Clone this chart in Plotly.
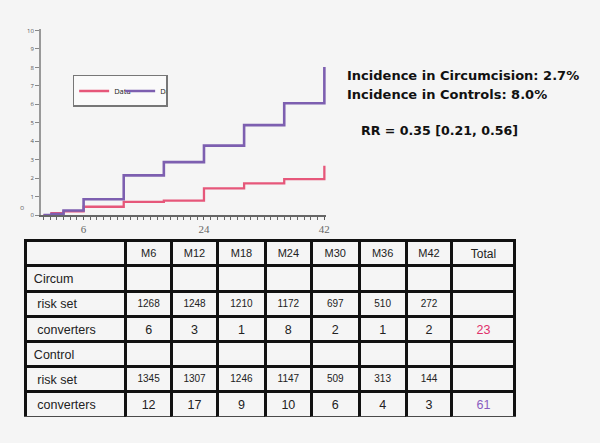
import plotly.graph_objects as go

# ---- Step-curve data (cumulative incidence, %) ----
months = [0, 1.2, 3, 6, 12, 18, 24, 30, 36, 42]
circum_cum = [0, 0.1, 0.2, 0.45, 0.72, 0.78, 1.45, 1.72, 1.95, 2.67]
control_cum = [0, 0.05, 0.25, 0.86, 2.15, 2.87, 3.76, 4.87, 6.06, 8.02]

x_ticks = [6, 24, 42]
y_ticks = list(range(0, 11))

# ---- Table data ----
col_labels = ["", "M6", "M12", "M18", "M24", "M30", "M36", "M42", "Total"]
row_labels = ["Circum", "\u00a0risk set", "\u00a0converters", "Control", "\u00a0risk set", "\u00a0converters"]
circum_risk = [1268, 1248, 1210, 1172, 697, 510, 272]
circum_conv = [6, 3, 1, 8, 2, 1, 2]
control_risk = [1345, 1307, 1246, 1147, 509, 313, 144]
control_conv = [12, 17, 9, 10, 6, 4, 3]
total_circum = 23
total_control = 61

annot_lines = ["Incidence in Circumcision: 2.7%", "Incidence in Controls: 8.0%"]
rr_text = "RR = 0.35 [0.21, 0.56]"

BG = "#f5f5f5"
PURPLE = "#7d5fb0"
RED = "#e6577a"
TXT = "#222"

# table columns + per-cell fonts (2-D, column-major)
cols = [row_labels]
sizes = [[12.5] * 6]
colors = [[TXT] * 6]
for i in range(7):
    cols.append(["", circum_risk[i], circum_conv[i], "", control_risk[i], control_conv[i]])
    sizes.append([10, 10, 12.5, 10, 10, 12.5])
    colors.append([TXT] * 6)
cols.append(["", "", total_circum, "", "", total_control])
sizes.append([12.5] * 6)
colors.append([TXT, TXT, "#e0306a", TXT, TXT, "#8a5cc0"])

table = dict(
    type="table",
    domain=dict(x=[26 / 600, 518 / 600], y=[(443 - 421) / 443, (443 - 242) / 443]),
    columnwidth=[100, 46, 46, 48, 46, 48, 47, 46, 63],
    header=dict(values=col_labels, height=25.2,
                align="center", fill=dict(color=BG),
                line=dict(color="#111", width=3),
                font=dict(family="Liberation Sans, Arial", size=[11] * 8 + [12], color=TXT)),
    cells=dict(values=cols, height=25.2,
               align=["left"] + ["center"] * 8, fill=dict(color=BG),
               line=dict(color="#111", width=3),
               font=dict(family="Liberation Sans, Arial", size=sizes, color=colors)),
)

circ = go.Scatter(x=months, y=circum_cum, mode="lines", line_shape="hv",
                  line=dict(color=RED, width=2.3), name="Data")
ctrl = go.Scatter(x=months, y=control_cum, mode="lines", line_shape="hv",
                  line=dict(color=PURPLE, width=2.6), name="Data")

fig = go.Figure(data=[circ, ctrl, table], _validate=False)

fig.update_layout(
    width=600, height=443,
    margin=dict(l=0, r=0, t=0, b=0),
    paper_bgcolor=BG, plot_bgcolor=BG,
    showlegend=True,
    legend=dict(x=73 / 600, y=(443 - 74) / 443, xanchor="left", yanchor="top",
                orientation="h", entrywidth=1, entrywidthmode="pixels",
                bgcolor="#fafafa", bordercolor="#777", borderwidth=1.5,
                font=dict(size=7.5, color="#222"), tracegroupgap=0),
    xaxis=dict(domain=[41 / 600, 328 / 600], range=[-0.4, 42.3],
               tickmode="array", tickvals=x_ticks, ticktext=[str(v) for v in x_ticks],
               ticks="outside", ticklen=3, tickcolor="#555",
               minor=dict(dtick=1, tick0=0, ticks="outside", ticklen=3, tickcolor="#666"),
               showline=True, linecolor="#666", linewidth=2, showgrid=False, zeroline=False,
               tickfont=dict(family="Liberation Serif, serif", size=11, color="#666")),
    yaxis=dict(domain=[(443 - 216) / 443, (443 - 27) / 443], range=[0, 10.1],
               tickmode="array", tickvals=y_ticks,
               ticks="outside", ticklen=4, tickcolor="#888",
               showline=True, linecolor="#999", linewidth=1.5, showgrid=False, zeroline=False,
               tickfont=dict(size=6, color="#555")),
)

for txt, yy in zip(annot_lines, [75, 94]):
    fig.add_annotation(xref="paper", yref="paper", x=347 / 600, y=1 - yy / 443,
                       xanchor="left", yanchor="middle", showarrow=False,
                       text="<b>" + txt + "</b>",
                       font=dict(family="DejaVu Sans", size=13, color="#111"))
fig.add_annotation(xref="paper", yref="paper", x=361 / 600, y=1 - 130 / 443,
                   xanchor="left", yanchor="middle", showarrow=False,
                   text="<b>" + rr_text + "</b>",
                   font=dict(family="DejaVu Sans", size=12.6, color="#111"))
fig.add_annotation(xref="paper", yref="paper", x=18 / 600, y=1 - 208 / 443,
                   showarrow=False, text="o", font=dict(size=7, color="#777"))

fig.write_html("out.html", config={"displayModeBar": False},
               post_script="document.body.style.margin='0';")
